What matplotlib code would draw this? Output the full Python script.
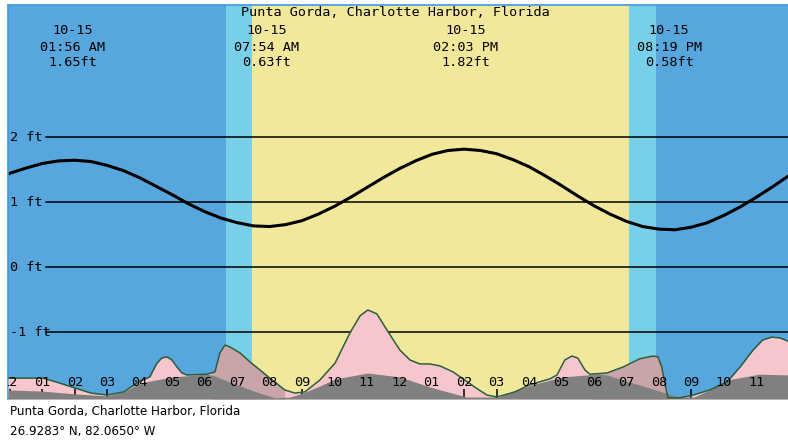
import numpy as np
import matplotlib
matplotlib.use("Agg")
import matplotlib.pyplot as plt

STATION = "Punta Gorda, Charlotte Harbor, Florida"
COORDS = "26.9283° N, 82.0650° W"

# high / low tide events
EVT_DATE = ["10-15", "10-15", "10-15", "10-15"]
EVT_TIME = ["01:56 AM", "07:54 AM", "02:03 PM", "08:19 PM"]
EVT_HT = [1.65, 0.63, 1.82, 0.58]

# twilight / daylight (hours after midnight)
FIRST_LIGHT, SUNRISE, SUNSET, LAST_LIGHT = 6.66, 7.46, 19.08, 19.91

# predicted tide (ft), every half hour from -0:30 to 24:30
TIDE_FT = [1.34, 1.45, 1.53, 1.60, 1.64, 1.65, 1.63, 1.57, 1.49, 1.38,
           1.25, 1.12, 0.98, 0.86, 0.76, 0.69, 0.64, 0.63, 0.66, 0.72,
           0.82, 0.94, 1.08, 1.23, 1.38, 1.52, 1.64, 1.74, 1.80, 1.82,
           1.80, 1.75, 1.66, 1.55, 1.41, 1.26, 1.10, 0.95, 0.82, 0.71,
           0.63, 0.59, 0.58, 0.62, 0.69, 0.80, 0.93, 1.08, 1.24, 1.41, 1.53]
TIDE_T = np.arange(len(TIDE_FT)) * 0.5 - 0.5

# bottom strip (relative level, 0-100 of plot height)
STRIP_T = [-0.06, 1.02, 1.51, 2.00, 2.50, 2.99, 3.51, 4.01, 4.31, 4.53, 4.68, 4.84,
           4.99, 5.15, 5.30, 5.45, 6.07, 6.22, 6.32, 6.47, 6.63, 6.78, 7.09, 7.40,
           7.70, 8.01, 8.47, 8.78, 9.09, 9.55, 10.02, 10.48, 10.79, 11.03, 11.31, 11.62,
           12.02, 12.33, 12.63, 12.94, 13.25, 13.65, 14.02, 14.33, 14.70, 15.01, 15.56, 16.02,
           16.64, 16.86, 17.10, 17.32, 17.50, 17.72, 17.87, 18.40, 18.89, 19.41, 19.82, 19.97,
           20.09, 20.18, 20.28, 20.65, 21.05, 21.57, 22.10, 22.50, 22.90, 23.20, 23.48, 23.73, 24.04]
STRIP_V = [5.3, 5.3, 4.1, 2.8, 1.5, 1.0, 1.8, 4.6, 5.6, 9.1, 10.4, 10.7,
           9.9, 8.1, 6.6, 6.1, 6.3, 6.6, 6.9, 11.7, 13.7, 13.2, 11.7, 9.4,
           7.4, 5.3, 2.3, 1.5, 1.8, 4.8, 9.1, 16.8, 21.1, 22.6, 21.6, 17.5,
           12.4, 9.9, 8.9, 8.9, 8.4, 6.9, 4.8, 3.0, 1.0, 0.5, 1.8, 3.6,
           5.1, 6.1, 9.9, 10.9, 10.4, 7.4, 6.3, 6.6, 8.1, 10.2, 10.9, 10.7,
           8.1, 4.1, 0.3, 0.3, 1.0, 2.3, 4.3, 8.1, 12.4, 15.0, 15.7, 15.5, 14.5]
DUSTY_WINDOWS = [(6.22, 8.47), (17.87, 20.28)]

GRAY_T = [-0.06, 1.02, 2.00, 2.99, 3.51, 4.01, 5.02, 6.04, 6.22, 7.09, 7.70, 8.17,
          8.63, 9.03, 9.55, 10.02, 11.03, 12.02, 13.04, 14.08, 15.07, 16.09, 17.04, 18.06,
          18.40, 18.89, 19.51, 20.09, 20.65, 21.08, 21.57, 22.10, 23.08, 24.04]
GRAY_V = [2.3, 2.0, 1.3, 0.8, 1.8, 4.1, 5.6, 6.3, 6.1, 3.3, 1.5, 0.3,
          0.5, 1.5, 3.3, 5.1, 6.6, 5.6, 2.8, 0.5, 0.5, 3.6, 5.6, 6.3,
          6.1, 4.8, 3.3, 1.8, 0.5, 0.5, 2.3, 4.8, 6.3, 6.1]

HOUR_LABELS = ["12", "01", "02", "03", "04", "05", "06", "07", "08", "09", "10", "11"] * 2
FT_LEVELS = [2, 1, 0, -1]

NIGHT, TWI, DAY = "#57a6dd", "#78cfe8", "#f2e89c"
PINK, DUSTY, GRAY, EDGE = "#f7c6cd", "#c9a4a9", "#808080", "#2b5e3c"
MONO = "DejaVu Sans Mono"
FS = 9.7


def to_hours(s):
    hm, ap = s.split()
    h, m = map(int, hm.split(":"))
    return (h % 12 + (12 if ap == "PM" else 0)) + m / 60.0


fig = plt.figure(figsize=(7.88, 4.42), dpi=100)
pos = [8 / 788, 43 / 442, 780 / 788, 394 / 442]
ax = fig.add_axes(pos)
ax.set_xlim(-0.06, 23.98)
ax.set_ylim(-2.023, 4.038)

# day / night background
ax.axvspan(-1, FIRST_LIGHT, color=NIGHT, lw=0)
ax.axvspan(FIRST_LIGHT, SUNRISE, color=TWI, lw=0)
ax.axvspan(SUNRISE, SUNSET, color=DAY, lw=0)
ax.axvspan(SUNSET, LAST_LIGHT, color=TWI, lw=0)
ax.axvspan(LAST_LIGHT, 25, color=NIGHT, lw=0)

for lv in FT_LEVELS:
    ax.axhline(lv, xmin=0.0487, color="black", lw=1.1)
    ax.text(0.003, lv, f"{lv} ft", transform=ax.get_yaxis_transform(),
            ha="left", va="center", family=MONO, fontsize=FS)

ax.plot(TIDE_T, TIDE_FT, color="black", lw=2.2, solid_capstyle="round")

for d, tm, ht in zip(EVT_DATE, EVT_TIME, EVT_HT):
    xh = to_hours(tm)
    for yy, s in zip([0.9365, 0.8934, 0.8528], [d, tm, f"{ht:.2f}ft"]):
        ax.text(xh, yy, s, transform=ax.get_xaxis_transform(), ha="center",
                va="center", family=MONO, fontsize=FS)

ax.tick_params(axis="both", bottom=False, labelbottom=False, left=False, labelleft=False)
for side in ["bottom", "right"]:
    ax.spines[side].set_visible(False)
for side in ["top", "left"]:
    ax.spines[side].set_color("#3c9be0")
    ax.spines[side].set_linewidth(1.2)

# bottom strip on its own scale
ax2 = fig.add_axes(pos, sharex=ax)
ax2.patch.set_visible(False)
ax2.set_ylim(0, 100)
st = np.array(STRIP_T)
sv = np.array(STRIP_V)
ax2.fill_between(st, 0, sv, color=PINK, lw=0, zorder=1)
for a, b in DUSTY_WINDOWS:
    ax2.fill_between(st, 0, sv, where=(st >= a) & (st <= b), color=DUSTY, lw=0, zorder=2)
ax2.fill_between(GRAY_T, 0, GRAY_V, color=GRAY, lw=0, zorder=3)
ax2.plot(st, sv, color=EDGE, lw=1.1, zorder=4)

hours = np.arange(24)
for h, lab in zip(hours, HOUR_LABELS):
    ax2.text(h, 0.043, lab, transform=ax2.get_xaxis_transform(), ha="center",
             va="center", family=MONO, fontsize=FS, zorder=6, clip_on=True)
ax2.set_xticks(hours)
ax2.tick_params(axis="x", direction="in", length=7, width=1.1, color="black",
                labelbottom=False, bottom=True)
ax2.set_yticks([])
for s in ax2.spines.values():
    s.set_visible(False)
ax2.set_xlim(-0.06, 23.98)

fig.text(395 / 788, 1 - 13 / 442, STATION, ha="center", va="center",
         family=MONO, fontsize=FS)
fig.text(10 / 788, 1 - 412 / 442, STATION, ha="left", va="center", fontsize=8.6)
fig.text(10 / 788, 1 - 431 / 442, COORDS, ha="left", va="center", fontsize=8.6)

fig.savefig("out.png", dpi=100)
